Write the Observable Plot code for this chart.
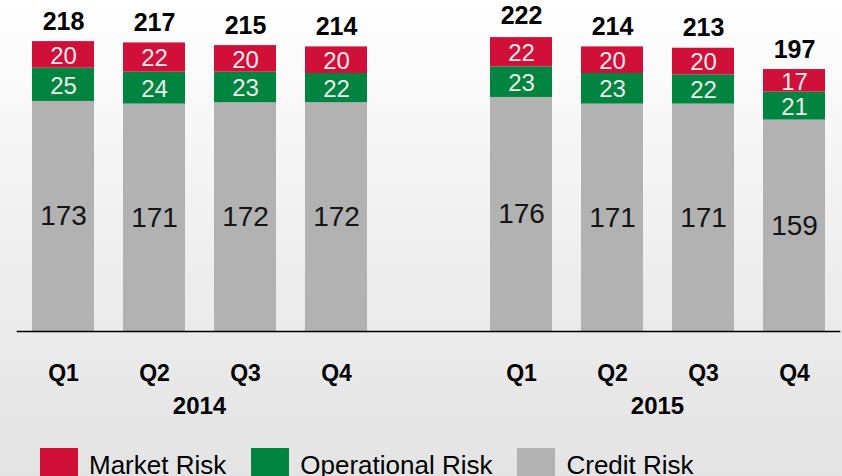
<!DOCTYPE html>
<html>
<head>
<meta charset="utf-8">
<script src="https://cdn.jsdelivr.net/npm/d3@7"></script>
<script src="https://cdn.jsdelivr.net/npm/@observablehq/plot@0.6"></script>
<style>
  html, body { margin: 0; padding: 0; }
  body {
    width: 842px; height: 476px; overflow: hidden;
    background: linear-gradient(#ffffff 0%, #eeeeee 55%, #e4e4e4 100%);
    font-family: "Liberation Sans", Arial, sans-serif;
  }
  #chart svg { display: block; }
  .legend { display: flex; align-items: flex-start; margin: 18px 0 0 40px; }
  .legend .item { display: flex; align-items: flex-start; margin-right: 25px; }
  .legend .sw { width: 38px; height: 38px; }
  .legend .lab { font-size: 26px; line-height: 26px; margin: 4px 0 0 11px; color: #000; white-space: nowrap; }
</style>
</head>
<body>
<div id="chart"></div>
<div class="legend" id="legend"></div>
<script>
const years = [2014, 2014, 2014, 2014, 2015, 2015, 2015, 2015];
const quarters = ["Q1", "Q2", "Q3", "Q4", "Q1", "Q2", "Q3", "Q4"];
const credit = [173, 171, 172, 172, 176, 171, 171, 159];
const operational = [25, 24, 23, 22, 23, 23, 22, 21];
const market = [20, 22, 20, 20, 22, 20, 20, 17];
const totals = [218, 217, 215, 214, 222, 214, 213, 197];
const seriesNames = ["Credit Risk", "Operational Risk", "Market Risk"];
const seriesColors = ["#b2b2b2", "#00843f", "#d1103a"];
const legendOrder = ["Market Risk", "Operational Risk", "Credit Risk"];

const seriesValues = {"Credit Risk": credit, "Operational Risk": operational, "Market Risk": market};
const rows = [];
years.forEach((yr, i) => {
  seriesNames.forEach(s => rows.push({year: yr, quarter: quarters[i], risk: s, value: seriesValues[s][i]}));
});
const totalRows = years.map((yr, i) => ({year: yr, quarter: quarters[i], total: totals[i]}));

const chart = Plot.plot({
  width: 842,
  height: 430,
  marginTop: 0,
  marginLeft: 17,
  marginRight: 2,
  marginBottom: 99,
  style: {background: "transparent", fontFamily: "'Liberation Sans', Arial, sans-serif", overflow: "visible"},
  fx: {domain: [2014, 2015], paddingInner: 0.2046, paddingOuter: 0, label: null},
  x: {domain: ["Q1", "Q2", "Q3", "Q4"], paddingInner: 0.32, paddingOuter: 0.1525, label: null},
  y: {domain: [0, 248.9], axis: null},
  color: {domain: seriesNames, range: seriesColors},
  marks: [
    Plot.barY(rows, {fx: "year", x: "quarter", y: "value", fill: "risk", order: seriesNames}),
    Plot.text(rows, Plot.stackY({
      fx: "year", x: "quarter", y: "value", z: "risk", order: seriesNames,
      text: d => d.risk === "Credit Risk" ? String(d.value) : null,
      fill: "#141414", fontSize: 28
    })),
    Plot.text(rows, Plot.stackY({
      fx: "year", x: "quarter", y: "value", z: "risk", order: seriesNames,
      text: d => d.risk !== "Credit Risk" ? String(d.value) : null,
      fill: "#ececec", fontSize: 24, dy: 1
    })),
    Plot.text(totalRows, {
      fx: "year", x: "quarter", y: "total", text: d => String(d.total),
      fill: "#000", fontSize: 25, fontWeight: "bold", dy: -20
    }),
    Plot.frame({facet: "super", anchor: "bottom", stroke: "#000", strokeWidth: 1.6}),
    Plot.axisX({tickSize: 0, tickPadding: 33, fontSize: 23, fontWeight: "bold", label: null}),
    Plot.axisFx({anchor: "bottom", tickSize: 0, tickPadding: 65, fontSize: 24, fontWeight: "bold", label: null, tickFormat: d => String(d)})
  ]
});
document.getElementById("chart").appendChild(chart);

const legend = document.getElementById("legend");
legendOrder.forEach(name => {
  const item = document.createElement("div");
  item.className = "item";
  const sw = document.createElement("div");
  sw.className = "sw";
  sw.style.background = seriesColors[seriesNames.indexOf(name)];
  const lab = document.createElement("div");
  lab.className = "lab";
  lab.textContent = name;
  item.appendChild(sw);
  item.appendChild(lab);
  legend.appendChild(item);
});
</script>
</body>
</html>
